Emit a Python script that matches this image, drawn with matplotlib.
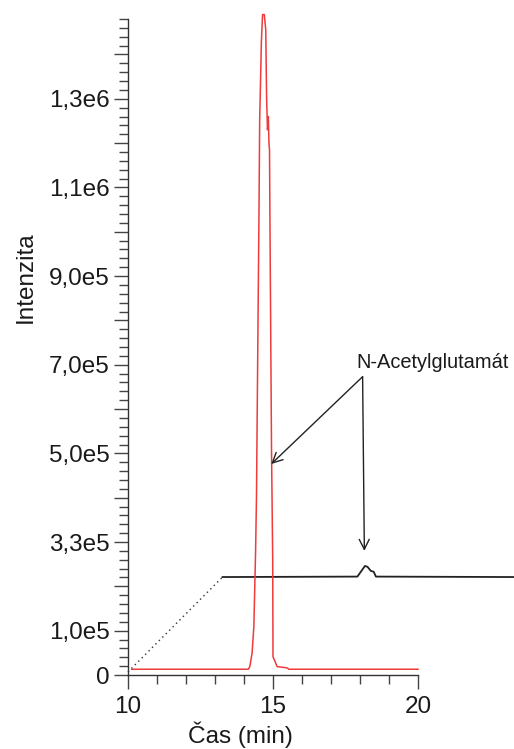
import matplotlib.pyplot as plt
from matplotlib.ticker import FixedLocator, MultipleLocator, FixedFormatter

plt.rcParams['font.family'] = ['Liberation Sans', 'DejaVu Sans']

# red trace: chromatogram with the large peak
red_t = [10.13, 14.15, 14.2, 14.28, 14.34, 14.4, 14.43, 14.52, 14.54, 14.6, 14.64,
         14.7, 14.75, 14.78, 14.81, 14.84, 14.86, 14.88, 14.89, 14.95, 14.99, 15.0,
         15.05, 15.14, 15.49, 15.55, 20.0]
red_y = [1.3e4, 1.3e4, 1.9e4, 5.0e4, 1.1e5, 2.8e5, 4.0e5, 1.07e6, 1.25e6, 1.43e6, 1.49e6,
         1.49e6, 1.456e6, 1.30e6, 1.23e6, 1.26e6, 1.20e6, 1.185e6, 1.07e6, 5.0e5, 2.6e5, 4.1e4,
         3.4e4, 1.9e4, 1.6e4, 1.3e4, 1.3e4]

# black trace: standard, offset upward
blk_dot_t = [10.0, 13.26]
blk_dot_y = [7e3, 2.21e5]
blk_t = [13.26, 17.91, 18.03, 18.17, 18.26, 18.37, 18.47, 18.55, 23.36]
blk_y = [2.21e5, 2.22e5, 2.33e5, 2.46e5, 2.44e5, 2.35e5, 2.33e5, 2.22e5, 2.21e5]

y_major = [i * 1e5 for i in range(15)]
y_labels = ['0', '1,0e5', '', '3,3e5', '', '5,0e5', '', '7,0e5', '', '9,0e5', '',
            '1,1e6', '', '1,3e6', '']

label_xy = (18.09, 6.73e5)
arrow_ends = [(14.94, 4.76e5), (18.15, 2.80e5)]

fig = plt.figure(figsize=(5.14, 7.49), dpi=100)
ax = fig.add_axes([128 / 514, 1 - 675 / 749, 290 / 514, 656 / 749])

ax.plot(red_t, red_y, color='#ee3b3b', lw=1.1, clip_on=False, zorder=3)
ax.plot(blk_dot_t, blk_dot_y, color='#333333', lw=1.0, ls=(0, (1, 2.5)), clip_on=False)
ax.plot(blk_t, blk_y, color='#222222', lw=1.3, clip_on=False)

ax.set_xlim(10, 20)
ax.set_ylim(0, 1.48e6)

for s in ['top', 'right']:
    ax.spines[s].set_visible(False)
for s in ['left', 'bottom']:
    ax.spines[s].set_color('#333333')
    ax.spines[s].set_linewidth(1.0)

ax.xaxis.set_major_locator(FixedLocator([10, 15, 20]))
ax.xaxis.set_minor_locator(MultipleLocator(1))
ax.yaxis.set_major_locator(FixedLocator(y_major))
ax.yaxis.set_major_formatter(FixedFormatter(y_labels))
ax.yaxis.set_minor_locator(MultipleLocator(2e4))

ax.tick_params(axis='both', which='major', direction='out', length=10, width=1.0,
               color='#444444', labelsize=17.5, labelcolor='#1a1a1a')
ax.tick_params(axis='both', which='minor', direction='out', length=6.5, width=1.0,
               color='#444444')
ax.tick_params(axis='x', which='major', pad=5)
ax.tick_params(axis='y', which='major', pad=3)

for end in arrow_ends:
    ax.annotate('', xy=end, xytext=label_xy,
                arrowprops=dict(arrowstyle='->', color='#222222', lw=1.0,
                                shrinkA=0, shrinkB=0, mutation_scale=18),
                annotation_clip=False)
ax.text(17.86, 6.73e5 + 0.1e5, 'N-Acetylglutamát', fontsize=14.4, color='#1a1a1a',
        ha='left', va='bottom', clip_on=False)

fig.text(240 / 514, 1 - 735 / 749, 'Čas (min)', fontsize=17.5, color='#1a1a1a',
         ha='center', va='center')
fig.text(26 / 514, 1 - 277 / 749, 'Intenzita', fontsize=17.5, color='#1a1a1a',
         ha='center', va='center', rotation=90)

fig.savefig('out.png', dpi=100)
